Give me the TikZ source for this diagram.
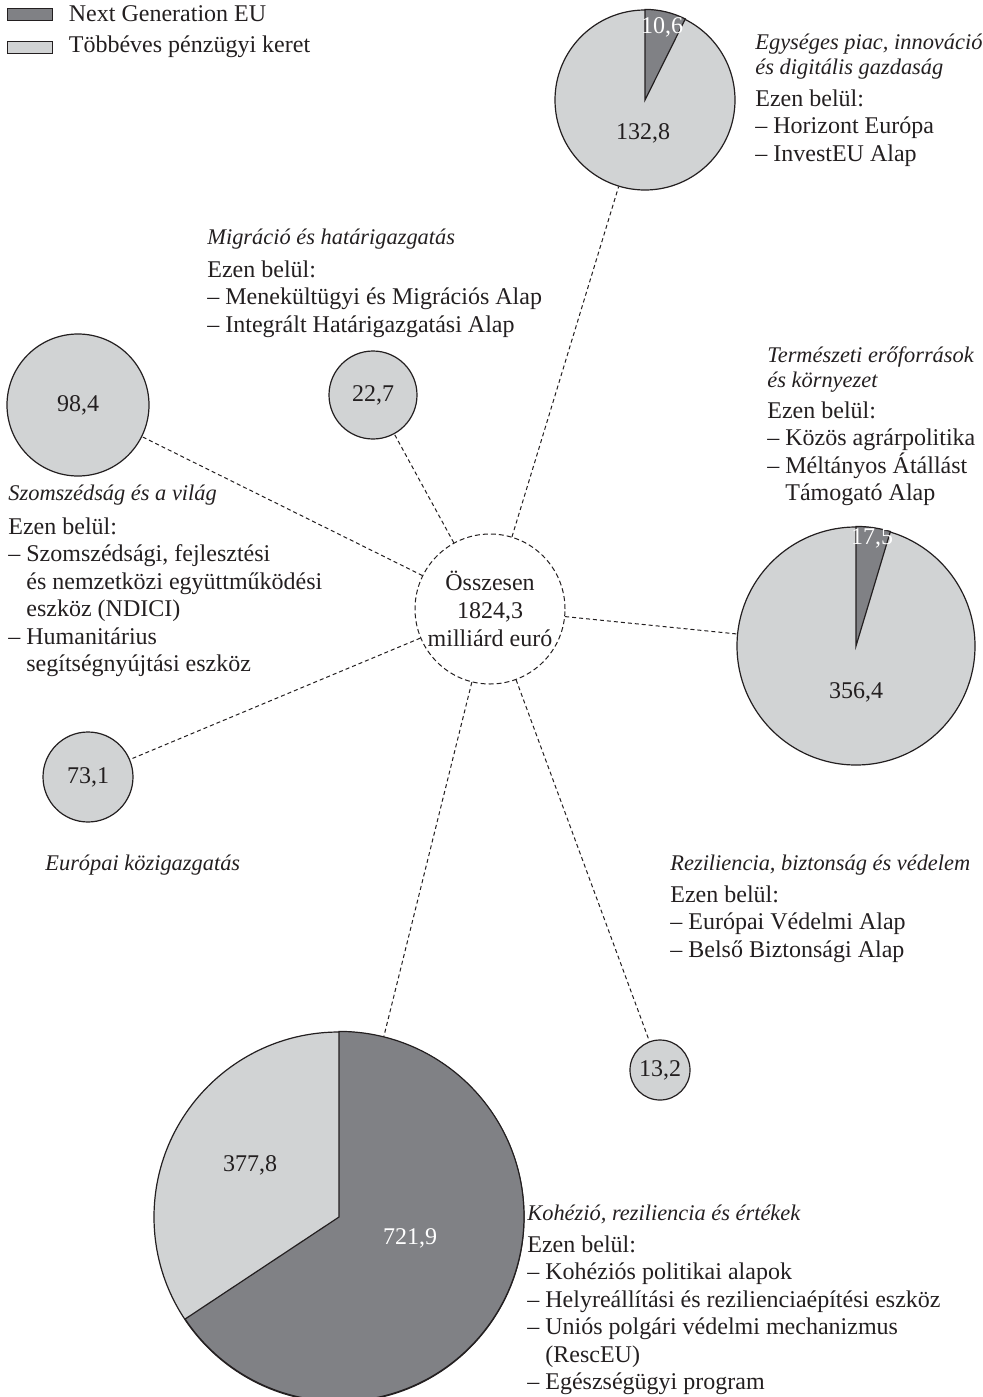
\documentclass[tikz,border=0pt]{standalone}
\usepackage{fontspec}
\setmainfont{Liberation Serif}
\usetikzlibrary{positioning}
\definecolor{ngeu}{HTML}{808185}
\definecolor{mff}{HTML}{D1D3D4}
\definecolor{ink}{HTML}{231F20}
\newcommand{\subln}{\hphantom{– }}
\tikzset{
    pie/.style  = {circle, draw=ink, line width=0.6pt, fill=mff, inner sep=0pt, text=ink, font=\fontsize{12}{14}\selectfont}, % one budget heading
    hub/.style  = {circle, draw=ink, line width=0.5pt, dash pattern=on 2.5pt off 1.5pt, minimum size=75pt, align=center, inner sep=0pt, font=\fontsize{12}{14}\selectfont, text=ink},
    link/.style = {draw=ink, line width=0.5pt, dash pattern=on 2pt off 1.5pt},
    slice/.style = {fill=ngeu, draw=ink, line width=0.6pt},
    num/.style  = {inner sep=0pt, font=\fontsize{12}{14}\selectfont, text=ink},
    head/.style = {anchor=north west, inner sep=0pt, align=left, text=ink, font=\itshape\fontsize{11.2}{12.5}\selectfont},
    body/.style = {anchor=north west, inner sep=0pt, align=left, text=ink, font=\fontsize{12}{13.75}\selectfont},
    key/.style  = {draw=ink, line width=0.5pt, minimum width=22.5pt, minimum height=6pt, inner sep=0pt}
}
\begin{document}
\begin{tikzpicture}[x=0.5pt, y=-0.5pt]
  \useasboundingbox (0,0) rectangle (983,1397);

  % legend
  \node[key, fill=ngeu] (k-ngeu) at (29.5,14) {};
  \node[key, fill=mff]  (k-mff)  at (29.5,47) {};
  \node[body, anchor=west, right=8pt of k-ngeu] (l-ngeu) {Next Generation EU};
  \node[body, anchor=west, right=8pt of k-mff]  (l-mff)  {Többéves pénzügyi keret};

  % circles
  \node[hub] (hub) at (490,609) {Összesen\\1824,3\\milliárd euró};
  \node[pie, minimum size=90pt]  (smp) at (645,100) {};
  \node[pie, minimum size=119pt] (nat) at (856,646) {};
  \node[pie, minimum size=185pt] (coh) at (339,1217) {};
  \node[pie, minimum size=71pt]  (nbr) at (78,405) {98,4};
  \node[pie, minimum size=44pt]  (mig) at (373,395) {22,7};
  \node[pie, minimum size=45pt]  (adm) at (88,777) {73,1};
  \node[pie, minimum size=30pt]  (sec) at (660,1070) {13,2};

  % NGEU slices
  \filldraw[slice] (smp.center) -- (smp.north) arc[start angle=90, end angle=63.4, radius=45pt] -- cycle;
  \filldraw[slice] (nat.center) -- (nat.north) arc[start angle=90, end angle=73.2, radius=59.5pt] -- cycle;
  \filldraw[slice] (coh.center) -- (coh.north) arc[start angle=90, end angle=-146.3, radius=92.5pt] -- cycle;

  \node[num, text=white] at (662,27)  {10,6};
  \node[num]             at (643,133) {132,8};
  \node[num, text=white] at (872,538) {17,5};
  \node[num]             at (856,692) {356,4};
  \node[num]             at (250,1165) {377,8};
  \node[num, text=white] at (410,1238) {721,9};

  % connectors
  \foreach \t in {smp,nat,coh,nbr,mig,adm,sec}
    \draw[link] (hub) -- (\t);

  % captions
  \node[head] (smp-h) at (755,34) {Egységes piac, innováció\\és digitális gazdaság};
  \node[body] (smp-b) at (755,89) {Ezen belül:\\– Horizont Európa\\– InvestEU Alap};

  \node[head] (nat-h) at (767,346) {Természeti erőforrások\\és környezet};
  \node[body] (nat-b) at (767,401) {Ezen belül:\\– Közös agrárpolitika\\– Méltányos Átállást\\\subln Támogató Alap};

  \node[head] (mig-h) at (207,229) {Migráció és határigazgatás};
  \node[body] (mig-b) at (207,260) {Ezen belül:\\– Menekültügyi és Migrációs Alap\\– Integrált Határigazgatási Alap};

  \node[head] (nbr-h) at (8,485) {Szomszédság és a világ};
  \node[body] (nbr-b) at (8,517) {Ezen belül:\\– Szomszédsági, fejlesztési\\\subln és nemzetközi együttműködési\\\subln eszköz (NDICI)\\– Humanitárius\\\subln segítségnyújtási eszköz};

  \node[head] (adm-h) at (45,855) {Európai közigazgatás};

  \node[head] (sec-h) at (670,855) {Reziliencia, biztonság és védelem};
  \node[body] (sec-b) at (670,885) {Ezen belül:\\– Európai Védelmi Alap\\– Belső Biztonsági Alap};

  \node[head] (coh-h) at (527,1205) {Kohézió, reziliencia és értékek};
  \node[body] (coh-b) at (527,1235) {Ezen belül:\\– Kohéziós politikai alapok\\– Helyreállítási és rezilienciaépítési eszköz\\– Uniós polgári védelmi mechanizmus\\\subln (RescEU)\\– Egészségügyi program};
\end{tikzpicture}
\end{document}
